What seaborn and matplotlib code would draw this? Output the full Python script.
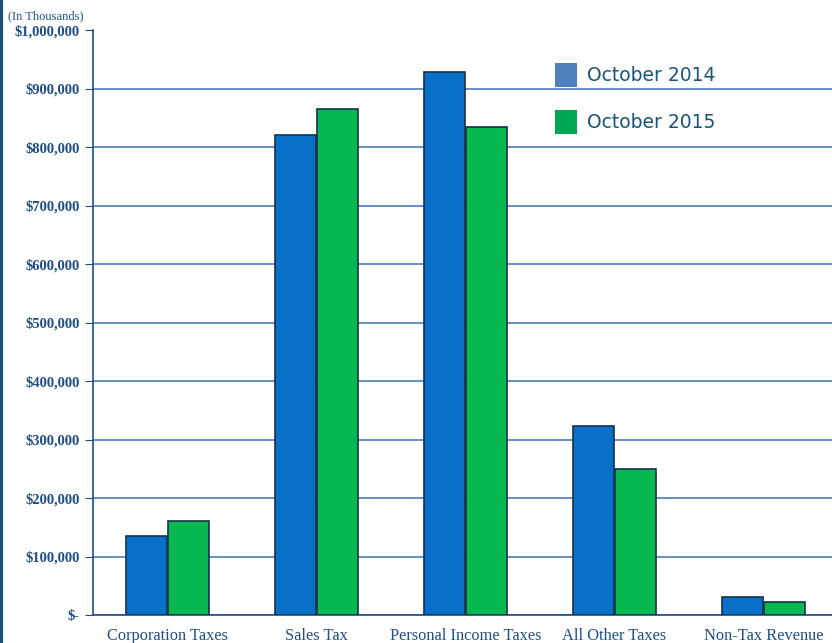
import pandas as pd
import matplotlib.pyplot as plt
import seaborn as sns

categories = ["Corporation Taxes", "Sales Tax", "Personal Income Taxes", "All Other Taxes", "Non-Tax Revenue"]
oct_2014 = [135000, 820000, 928000, 323000, 30000]
oct_2015 = [160000, 865000, 835000, 250000, 22000]
series = ["October 2014", "October 2015"]
yticks = list(range(0, 1000001, 100000))

df = pd.DataFrame({
    "Category": categories * 2,
    "Value": oct_2014 + oct_2015,
    "Period": [series[0]] * len(categories) + [series[1]] * len(categories),
})

sns.set_style("white")
plt.rcParams["font.family"] = ["Liberation Serif", "DejaVu Serif"]

navy = "#1f4e86"
fig = plt.figure(figsize=(8.32, 6.43), dpi=100)
ax = fig.add_axes([93 / 832, 1 - 615 / 643, 745 / 832, 585 / 643])

sns.barplot(data=df, x="Category", y="Value", hue="Period",
            palette=["#0870c8", "#08b850"], saturation=1, width=0.57, gap=0.04,
            edgecolor="#16324a", linewidth=1.2, ax=ax, zorder=3)

ax.set_xlim(-0.5, 4.5)
ax.set_ylim(0, 1000000)
ax.set_yticks(yticks)
ax.set_yticklabels(["$-" if v == 0 else "${:,.0f}".format(v) for v in yticks],
                   fontsize=10.5, fontweight="bold", color=navy)
ax.yaxis.grid(True, color="#3f72b0", linewidth=1.1, zorder=0)
ax.get_ygridlines()[-1].set_visible(False)
ax.set_axisbelow(True)

ax.set_xticks(range(len(categories)))
ax.set_xticklabels(categories, fontsize=11.8, color=navy)
ax.set_xticks([i + 0.5 for i in range(-1, len(categories))], minor=True)
ax.tick_params(axis="x", which="major", length=0, pad=9)
ax.tick_params(axis="x", which="minor", length=5, color=navy, direction="out")
ax.tick_params(axis="y", length=6, color=navy, direction="out", left=True)
ax.set_xlabel("")
ax.set_ylabel("")

for s in ["top", "right"]:
    ax.spines[s].set_visible(False)
for s in ["left", "bottom"]:
    ax.spines[s].set_color(navy)
    ax.spines[s].set_linewidth(1.2)

handles, labels = ax.get_legend_handles_labels()
handles[0].set_facecolor("#4f81bd")
handles[1].set_facecolor("#00a651")
for h in handles:
    h.set_edgecolor("none")
ax.legend(handles, labels, loc="upper left", bbox_to_anchor=(0.597, 0.972),
          frameon=False, prop={"family": "DejaVu Sans", "size": 13.5},
          labelcolor="#1b5578", handlelength=1.2, handleheight=1.6,
          labelspacing=1.2, handletextpad=0.55)

fig.text(8 / 832, 1 - 16 / 643, "(In Thousands)", fontsize=9, color=navy, va="center")
fig.add_artist(plt.Line2D([0.001, 0.001], [0, 1], color="#1b4f72", linewidth=3))

fig.savefig("out.png", dpi=100)
